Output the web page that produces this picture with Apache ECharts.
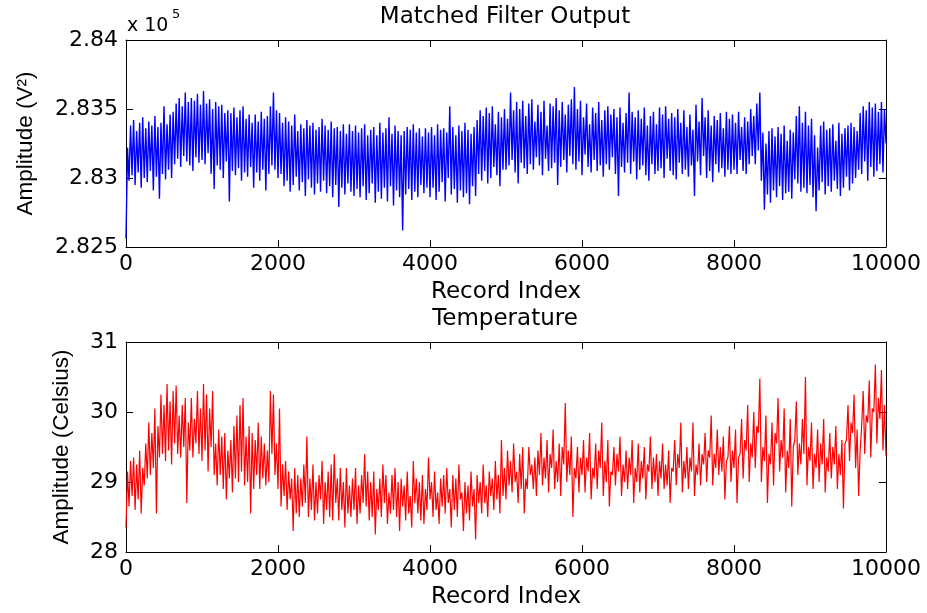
<!DOCTYPE html>
<html>
<head>
<meta charset="utf-8">
<script src="https://cdn.jsdelivr.net/npm/echarts@6/dist/echarts.min.js"></script>
<style>
html,body{margin:0;padding:0;background:#fff;}
#chart{width:927px;height:613px;}
</style>
</head>
<body>
<div id="chart"></div>
<script>
// Record index sampling (one reading every 20 records)
const recordStep = 20;

// Matched filter output, in units of 10^5 V^2 (idx 0..10000 step 20)
const matchedFilter = [
 2.8256,2.8322,2.8298,2.8338,2.8302,2.8342,2.8295,2.8334,2.8304,2.8340,2.8293,2.8344,2.8300,2.8336,2.8297,2.8341,2.8305,2.8338,2.8291,2.8345,2.8301,2.8337,2.8285,2.8340,2.8303,
 2.8352,2.8299,2.8339,2.8306,2.8346,2.8300,2.8348,2.8310,2.8354,2.8314,2.8358,2.8308,2.8352,2.8316,2.8362,2.8312,2.8355,2.8309,2.8358,2.8305,2.8356,2.8315,2.8361,2.8311,2.8353,
 2.8313,2.8363,2.8310,2.8354,2.8318,2.8357,2.8303,2.8350,2.8292,2.8355,2.8309,2.8352,2.8306,2.8353,2.8300,2.8347,2.8312,2.8349,2.8283,2.8347,2.8305,2.8351,2.8302,2.8344,2.8307,
 2.8349,2.8298,2.8352,2.8304,2.8343,2.8301,2.8346,2.8308,2.8340,2.8293,2.8346,2.8304,2.8341,2.8298,2.8348,2.8306,2.8343,2.8291,2.8345,2.8303,2.8352,2.8309,2.8362,2.8306,2.8349,
 2.8300,2.8347,2.8303,2.8340,2.8294,2.8344,2.8298,2.8341,2.8290,2.8338,2.8295,2.8346,2.8301,2.8334,2.8291,2.8339,2.8297,2.8336,2.8287,2.8342,2.8299,2.8338,2.8293,2.8340,2.8288,
 2.8335,2.8296,2.8337,2.8290,2.8343,2.8298,2.8338,2.8289,2.8335,2.8294,2.8341,2.8286,2.8336,2.8295,2.8337,2.8279,2.8334,2.8293,2.8339,2.8288,2.8332,2.8296,2.8339,2.8290,2.8334,
 2.8287,2.8338,2.8292,2.8333,2.8286,2.8336,2.8294,2.8339,2.8284,2.8331,2.8289,2.8335,2.8296,2.8337,2.8282,2.8331,2.8290,2.8340,2.8285,2.8333,2.8293,2.8336,2.8283,2.8344,2.8294,
 2.8332,2.8280,2.8338,2.8291,2.8334,2.8286,2.8331,2.8262,2.8334,2.8288,2.8337,2.8292,2.8335,2.8284,2.8339,2.8290,2.8333,2.8286,2.8336,2.8295,2.8330,2.8289,2.8336,2.8293,2.8333,
 2.8286,2.8337,2.8293,2.8331,2.8284,2.8339,2.8290,2.8335,2.8297,2.8336,2.8283,2.8333,2.8300,2.8352,2.8288,2.8337,2.8292,2.8331,2.8282,2.8338,2.8291,2.8334,2.8286,2.8340,2.8289,
 2.8335,2.8281,2.8332,2.8294,2.8337,2.8287,2.8342,2.8303,2.8349,2.8298,2.8345,2.8305,2.8351,2.8296,2.8347,2.8300,2.8352,2.8308,2.8339,2.8302,2.8348,2.8294,2.8344,2.8306,2.8350,
 2.8306,2.8343,2.8309,2.8362,2.8313,2.8349,2.8304,2.8355,2.8296,2.8350,2.8311,2.8356,2.8307,2.8345,2.8303,2.8354,2.8310,2.8357,2.8306,2.8341,2.8315,2.8353,2.8309,2.8348,2.8302,
 2.8356,2.8314,2.8338,2.8305,2.8354,2.8307,2.8352,2.8311,2.8358,2.8295,2.8349,2.8308,2.8355,2.8313,2.8346,2.8304,2.8353,2.8316,2.8357,2.8310,2.8366,2.8306,2.8350,2.8312,2.8356,
 2.8302,2.8344,2.8317,2.8354,2.8308,2.8339,2.8304,2.8351,2.8313,2.8347,2.8305,2.8355,2.8309,2.8342,2.8301,2.8349,2.8310,2.8352,2.8306,2.8346,2.8315,2.8350,2.8303,2.8344,2.8287,
 2.8351,2.8308,2.8340,2.8304,2.8347,2.8311,2.8362,2.8303,2.8348,2.8312,2.8344,2.8299,2.8349,2.8306,2.8343,2.8309,2.8351,2.8302,2.8338,2.8298,2.8345,2.8310,2.8348,2.8303,2.8339,
 2.8305,2.8351,2.8307,2.8346,2.8300,2.8352,2.8314,2.8343,2.8305,2.8347,2.8302,2.8344,2.8299,2.8350,2.8311,2.8340,2.8303,2.8349,2.8306,2.8337,2.8301,2.8346,2.8309,2.8335,2.8287,
 2.8353,2.8312,2.8341,2.8302,2.8358,2.8316,2.8344,2.8300,2.8349,2.8305,2.8338,2.8297,2.8345,2.8310,2.8342,2.8304,2.8347,2.8307,2.8336,2.8301,2.8348,2.8306,2.8343,2.8303,2.8346,
 2.8306,2.8340,2.8303,2.8348,2.8313,2.8337,2.8305,2.8344,2.8303,2.8341,2.8310,2.8350,2.8316,2.8345,2.8310,2.8354,2.8320,2.8362,2.8298,2.8333,2.8277,2.8325,2.8288,2.8334,2.8282,
 2.8336,2.8291,2.8330,2.8286,2.8337,2.8294,2.8332,2.8284,2.8338,2.8289,2.8327,2.8290,2.8335,2.8285,2.8333,2.8299,2.8345,2.8296,2.8352,2.8290,2.8340,2.8293,2.8348,2.8289,2.8338,
 2.8295,2.8343,2.8286,2.8331,2.8276,2.8322,2.8291,2.8338,2.8297,2.8341,2.8288,2.8335,2.8294,2.8336,2.8290,2.8339,2.8298,2.8327,2.8292,2.8340,2.8287,2.8332,2.8293,2.8336,2.8301,
 2.8338,2.8291,2.8340,2.8296,2.8337,2.8300,2.8334,2.8306,2.8347,2.8303,2.8352,2.8312,2.8349,2.8298,2.8355,2.8308,2.8351,2.8301,2.8354,2.8305,2.8348,2.8310,2.8355,2.8304,2.8350,
 2.8325
];

// Temperature in Celsius (idx 0..10000 step 20)
const temperature = [
 28.35,29.15,28.65,29.30,28.80,29.35,28.60,29.25,28.75,29.45,28.55,29.20,28.95,29.55,29.05,29.85,29.10,29.70,29.20,30.05,28.55,29.80,29.35,30.25,29.40,
 30.10,29.30,30.40,29.45,30.15,29.25,30.30,29.55,30.38,29.40,29.95,29.35,30.10,29.50,30.20,28.70,29.85,29.45,30.20,29.35,29.90,29.55,30.30,29.40,30.05,
 29.30,30.40,29.45,30.25,29.15,30.05,29.50,30.30,29.10,29.55,28.95,29.75,29.10,29.65,28.90,29.70,28.75,29.45,29.05,29.60,28.85,29.80,29.05,29.95,29.00,
 30.10,29.15,30.20,28.95,29.65,29.00,29.80,28.55,29.70,28.90,29.60,29.10,29.85,28.90,29.65,29.05,29.55,28.95,29.45,29.00,30.30,29.40,30.25,29.10,29.55,
 28.90,30.05,28.65,29.25,28.80,29.30,28.60,29.15,28.75,29.05,28.30,29.20,28.55,29.10,28.50,29.05,28.65,29.25,28.70,29.65,28.50,29.05,28.60,29.25,28.45,
 29.00,28.55,29.10,28.75,29.30,28.40,29.00,28.60,29.15,28.50,29.25,28.45,29.40,28.70,29.05,28.45,29.20,28.60,29.00,28.35,29.20,28.55,28.95,28.50,29.05,
 28.60,29.20,28.40,28.95,28.55,29.10,28.70,29.40,28.65,29.15,28.45,29.00,28.50,29.15,28.25,28.90,28.60,29.05,28.50,29.25,28.70,29.10,28.40,28.85,28.55,
 29.10,28.60,29.20,28.50,29.00,28.30,29.05,28.65,28.95,28.45,29.15,28.55,28.80,28.35,29.30,28.70,29.05,28.55,29.00,28.45,29.10,28.40,28.90,28.60,29.35,
 28.75,29.00,28.50,29.15,28.60,28.85,28.40,29.05,28.65,29.10,28.55,29.20,28.70,28.90,28.35,29.10,28.60,29.05,28.50,29.25,28.75,28.85,28.30,29.00,28.55,
 28.95,28.45,29.15,28.65,28.90,28.18,29.10,28.70,29.00,28.55,29.25,28.70,28.95,28.50,29.15,28.80,29.05,28.60,29.30,28.75,29.10,28.55,29.60,28.80,29.20,
 28.75,29.45,28.95,29.30,28.85,29.55,29.00,29.15,28.70,29.40,28.90,29.50,28.55,29.05,28.90,29.50,29.10,29.25,28.90,29.35,28.80,29.45,29.10,29.70,28.95,
 29.35,29.05,29.60,28.85,29.40,29.20,29.75,28.90,29.30,29.00,29.55,28.80,29.50,29.25,30.13,29.00,29.45,29.10,29.65,28.50,29.20,29.05,29.50,28.85,29.35,
 29.10,29.60,28.85,29.35,29.15,29.70,28.75,29.20,29.05,29.55,28.90,29.45,29.20,29.85,28.80,29.30,29.00,29.60,28.65,29.15,29.10,29.50,28.95,29.40,29.15,
 29.65,28.80,29.25,29.00,29.45,28.90,29.35,29.10,29.60,28.70,29.20,29.00,29.55,28.85,29.30,29.05,29.50,28.75,29.25,29.15,29.65,28.90,29.35,29.00,29.40,
 28.80,29.30,29.05,29.55,28.90,29.25,28.95,29.45,28.70,29.20,29.15,29.60,28.95,29.40,29.20,29.85,28.85,29.30,29.05,29.50,28.90,29.35,29.15,29.85,28.80,
 29.25,29.10,29.55,28.95,29.40,29.25,29.70,29.00,29.45,29.35,29.95,28.95,29.40,29.20,29.75,29.10,29.50,29.15,29.65,28.75,29.30,29.35,29.80,29.00,29.45,
 29.20,29.75,28.70,29.35,29.40,29.90,29.05,29.60,29.45,30.10,29.00,29.55,29.35,30.00,29.20,29.80,29.70,30.48,29.00,29.50,29.30,29.95,28.70,29.40,29.25,
 29.85,28.95,29.70,29.55,30.20,29.15,29.60,29.35,30.05,28.85,29.45,29.20,29.90,28.65,29.50,29.60,30.15,29.10,29.55,29.25,29.90,29.40,30.50,28.95,29.50,
 29.30,29.85,28.90,29.40,29.20,29.75,29.00,29.55,29.25,29.90,28.85,29.35,29.15,29.70,29.05,29.50,29.25,29.80,28.90,29.40,29.10,29.60,28.62,29.55,29.60,
 30.10,29.30,29.85,29.70,30.25,29.20,29.75,28.80,29.45,29.80,30.30,29.40,29.95,29.85,30.45,29.35,30.05,30.00,30.68,29.55,30.20,29.90,30.60,29.45,30.10,
 29.37
];

// Axis ticks
const xTicks = [0, 2000, 4000, 6000, 8000, 10000];
const mfTicks = [2.825, 2.83, 2.835, 2.84];
const tempTicks = [28, 29, 30, 31];

const mfData = matchedFilter.map((v, i) => [i * recordStep, v]);
const tempData = temperature.map((v, i) => [i * recordStep, v]);

const hFont = 'DejaVu Sans';
const vFont = 'Liberation Sans';
const axisCol = '#000';

function xAx(gridIndex, showLabel, pos, name) {
  return {
    type: 'value', gridIndex, position: pos,
    min: xTicks[0], max: xTicks[xTicks.length - 1], interval: xTicks[1] - xTicks[0],
    axisLine: { show: true, onZero: false, lineStyle: { color: axisCol, width: 1 } },
    axisTick: { show: true, inside: true, length: 7, lineStyle: { color: axisCol } },
    axisLabel: { show: showLabel, margin: 6, color: '#000', fontFamily: hFont, fontSize: 22,
      formatter: v => String(Math.round(v)) },
    splitLine: { show: false },
    name: name || '', nameLocation: 'middle', nameGap: 34,
    nameTextStyle: { color: '#000', fontFamily: hFont, fontSize: 23 }
  };
}
function yAx(gridIndex, ticks, showLabel, pos, name, gap, fmt) {
  return {
    type: 'value', gridIndex, position: pos,
    min: ticks[0], max: ticks[ticks.length - 1], interval: ticks[1] - ticks[0],
    axisLine: { show: true, onZero: false, lineStyle: { color: axisCol, width: 1 } },
    axisTick: { show: true, inside: true, length: 7, lineStyle: { color: axisCol } },
    axisLabel: { show: showLabel, margin: 8, color: '#000', fontFamily: hFont, fontSize: 22, formatter: fmt },
    splitLine: { show: false },
    name: name || '', nameLocation: 'middle', nameGap: gap || 0,
    nameTextStyle: { color: '#000', fontFamily: vFont, fontSize: 22.5 }
  };
}
const fmt = v => String(parseFloat(Number(v).toFixed(4)));

const chart = echarts.init(document.getElementById('chart'), null, { renderer: 'canvas' });
chart.setOption({
  animation: false,
  backgroundColor: '#fff',
  title: [
    { text: 'Matched Filter Output', left: 505, top: 6, textAlign: 'center', padding: 0,
      textStyle: { fontFamily: hFont, fontSize: 23, fontWeight: 'normal', color: '#000' } },
    { text: 'Temperature', left: 505, top: 308, textAlign: 'center', padding: 0,
      textStyle: { fontFamily: hFont, fontSize: 23, fontWeight: 'normal', color: '#000' } }
  ],
  grid: [
    { left: 126, top: 40, width: 760, height: 207, containLabel: false, outerBoundsMode: 'none' },
    { left: 126, top: 342, width: 760, height: 210, containLabel: false, outerBoundsMode: 'none' }
  ],
  xAxis: [
    xAx(0, true, 'bottom', 'Record Index'),
    xAx(0, false, 'top'),
    xAx(1, true, 'bottom', 'Record Index'),
    xAx(1, false, 'top')
  ],
  yAxis: [
    yAx(0, mfTicks, true, 'left', 'Amplitude (V²)', 89, fmt),
    yAx(0, mfTicks, false, 'right'),
    yAx(1, tempTicks, true, 'left', 'Amplitude (Celsius)', 53, fmt),
    yAx(1, tempTicks, false, 'right')
  ],
  graphic: [
    { type: 'text', left: 127, top: 17, style: { text: 'x 10', fontFamily: hFont, fontSize: 19, fill: '#000' } },
    { type: 'text', left: 172, top: 8, style: { text: '5', fontFamily: hFont, fontSize: 13, fill: '#000' } }
  ],
  series: [
    { type: 'line', xAxisIndex: 0, yAxisIndex: 0, data: mfData, showSymbol: false, symbol: 'none',
      lineStyle: { color: '#0000ff', width: 1.4 }, itemStyle: { color: '#0000ff' } },
    { type: 'line', xAxisIndex: 2, yAxisIndex: 2, data: tempData, showSymbol: false, symbol: 'none',
      lineStyle: { color: '#ff0000', width: 1.2 }, itemStyle: { color: '#ff0000' } }
  ]
});
</script>
</body>
</html>
